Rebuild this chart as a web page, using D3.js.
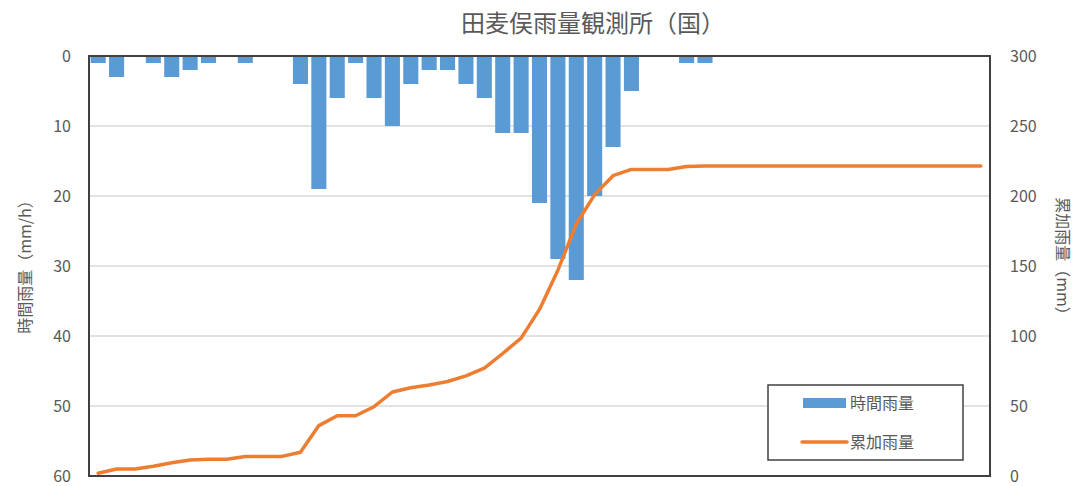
<!DOCTYPE html>
<html><head><meta charset="utf-8">
<script src="https://cdn.jsdelivr.net/npm/d3@7"></script>
<style>
html,body{margin:0;padding:0;background:#fff;}
svg text{font-family:"Noto Sans CJK JP","Noto Sans",sans-serif;fill:#595959;}
</style></head>
<body><svg id="c" width="1080" height="486"></svg>
<script>
const hours = d3.range(49);
const hourlyRain = [1,3,0,1,3,2,1,0,1,0,0,4,19,6,1,6,10,4,2,2,4,6,11,11,21,29,32,20,13,5,0,0,1,1,0,0,0,0,0,0,0,0,0,0,0,0,0,0,0];
const cumulativeRain = [2,5,5,7,9.5,11.5,12,12,14,14,14,17,36,43,43,49.5,60,63,65,67.5,71.5,77,87.5,98.5,119,147,180,201,214.5,219,219,219,221,221.5,221.5,221.5,221.5,221.5,221.5,221.5,221.5,221.5,221.5,221.5,221.5,221.5,221.5,221.5,221.5];
const leftTicks = [0,10,20,30,40,50,60];
const rightTicks = [0,50,100,150,200,250,300];
const title = "田麦俣雨量観測所（国）";
const leftTitle = "時間雨量（mm/h）";
const rightTitle = "累加雨量（mm）";
const seriesNames = ["時間雨量","累加雨量"];

const svg = d3.select("#c");
const L=89, R=990, T=56, B=476;
const x = d3.scaleBand().domain(hours).range([L,R]).paddingInner(0.18).paddingOuter(0.09);
const yL = d3.scaleLinear().domain([0,60]).range([T,B]);
const yR = d3.scaleLinear().domain([0,300]).range([B,T]);

// gridlines
svg.append("g").selectAll("line").data(leftTicks).join("line")
  .attr("x1",L).attr("x2",R).attr("y1",d=>yL(d)).attr("y2",d=>yL(d))
  .attr("stroke","#d9d9d9").attr("stroke-width",1.3);

// bars
svg.append("g").selectAll("rect").data(hours).join("rect")
  .attr("x",d=>x(d)).attr("width",x.bandwidth())
  .attr("y",yL(0)).attr("height",d=>yL(hourlyRain[d])-yL(0))
  .attr("fill","#5B9BD5");

// line
const line = d3.line().x(d=>x(d)+x.bandwidth()/2).y(d=>yR(cumulativeRain[d]));
svg.append("path").datum(hours).attr("d",line).attr("fill","none")
  .attr("stroke","#ED7D31").attr("stroke-width",3.5).attr("stroke-linejoin","round").attr("stroke-linecap","round");

// frame
svg.append("rect").attr("x",L).attr("y",T).attr("width",R-L).attr("height",B-T)
  .attr("fill","none").attr("stroke","#404040").attr("stroke-width",2);

// axes
const axL = d3.axisLeft(yL).tickValues(leftTicks).tickSize(0).tickPadding(18);
const gL = svg.append("g").attr("transform",`translate(${L},0)`).call(axL);
gL.select(".domain").remove();
gL.selectAll("text").attr("font-size",16).attr("fill","#595959").style("font-family","'Noto Sans CJK JP',sans-serif");
const axR = d3.axisRight(yR).tickValues(rightTicks).tickSize(0).tickPadding(20);
const gR = svg.append("g").attr("transform",`translate(${R},0)`).call(axR);
gR.select(".domain").remove();
gR.selectAll("text").attr("font-size",16).attr("fill","#595959").style("font-family","'Noto Sans CJK JP',sans-serif");

// titles
svg.append("text").attr("x",593).attr("y",32).attr("text-anchor","middle").attr("font-size",24).text(title);
svg.append("text").attr("transform","translate(31,263) rotate(-90)").attr("text-anchor","middle").attr("font-size",16).text(leftTitle);
svg.append("text").attr("transform","translate(1057,260) rotate(90)").attr("text-anchor","middle").attr("font-size",16).text(rightTitle);

// legend
const lg = svg.append("g");
lg.append("rect").attr("x",768).attr("y",385).attr("width",195).attr("height",75).attr("fill","#fff").attr("stroke","#404040").attr("stroke-width",1.5);
lg.append("rect").attr("x",803).attr("y",398).attr("width",43).attr("height",10).attr("fill","#5B9BD5");
lg.append("text").attr("x",850).attr("y",409).attr("font-size",16).text(seriesNames[0]);
lg.append("line").attr("x1",802).attr("x2",847).attr("y1",442).attr("y2",442).attr("stroke","#ED7D31").attr("stroke-width",3.5).attr("stroke-linecap","round");
lg.append("text").attr("x",850).attr("y",448).attr("font-size",16).text(seriesNames[1]);
</script></body></html>
